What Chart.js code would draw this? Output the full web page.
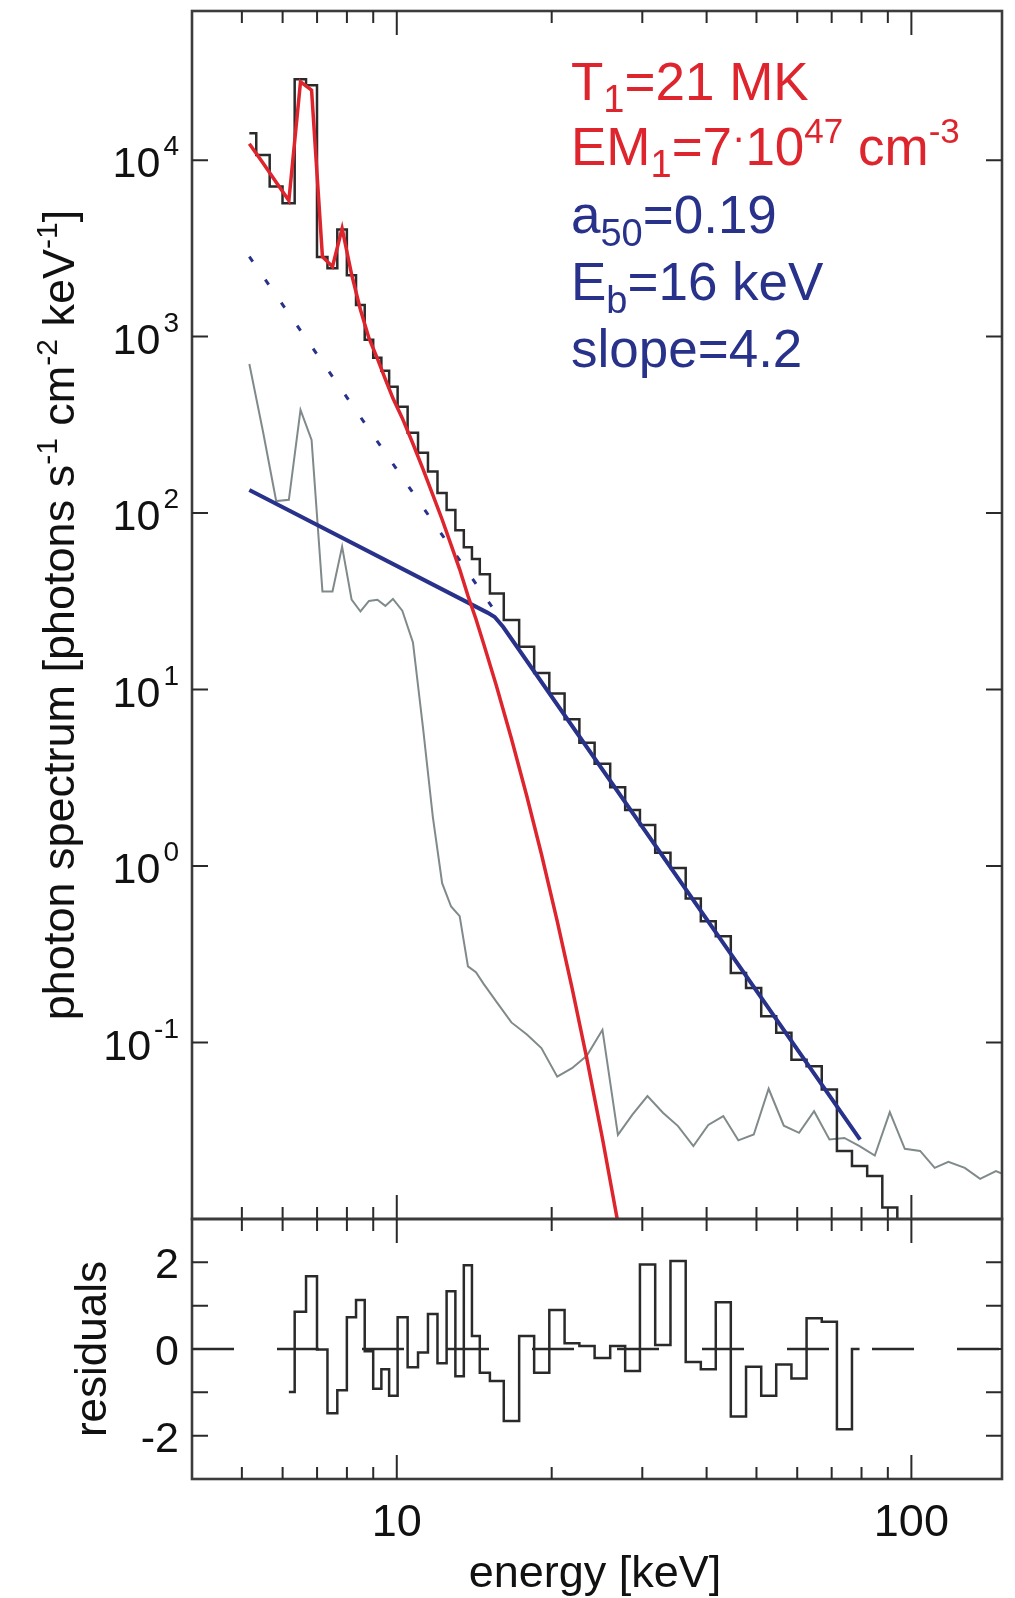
<!DOCTYPE html>
<html>
<head>
<meta charset="utf-8">
<script src="https://cdn.jsdelivr.net/npm/chart.js@4.4.1/dist/chart.umd.min.js"></script>
<style>
  html, body { margin: 0; padding: 0; background: #fff; }
  #wrap { position: relative; width: 1015px; height: 1598px; }
  canvas { position: absolute; left: 0; }
  #main { top: 0; }
  #resid { top: 1190px; }
</style>
</head>
<body>
<div id="wrap">
  <canvas id="main" width="1015" height="1230"></canvas>
  <canvas id="resid" width="1015" height="408"></canvas>
</div>
<script>
// ---- data ----

// energy bin centres (keV) of the measured spectrum
const binEnergy = [5.17, 5.5, 5.83, 6.17, 6.5, 6.83, 7.17, 7.5, 7.83, 8.17, 8.5, 8.83,
  9.17, 9.5, 9.83, 10.25, 10.75, 11.25, 11.75, 12.25, 12.75, 13.25, 13.75, 14.25, 14.75,
  15.6, 16.7, 17.9, 19.1, 20.5, 21.9, 23.4, 25.1, 26.9, 28.7, 30.7, 32.9, 35.2, 37.7, 40.3,
  43.1, 46.1, 49.4, 52.8, 56.5, 60.5, 64.7, 69.3, 74.1, 79.3, 84.9, 90.8, 97.1];

// measured photon spectrum (black histogram)
const photonFlux = [14200, 10700, 7100, 5700, 28700, 26600, 2830, 2440, 4050, 2230, 1510, 960,
  760, 640, 520, 400, 285, 220, 172, 130, 104, 80, 64, 55, 45,
  35, 24.8, 17.5, 12.4, 9.5, 6.8, 5.0, 3.8, 2.8, 2.08, 1.71, 1.19, 0.975, 0.654, 0.486,
  0.400, 0.248, 0.204, 0.141, 0.1135, 0.080, 0.0734, 0.0542, 0.0243, 0.0200, 0.0175, 0.0116, 0.005];

// background (grey)
const bgEnergy = [5.17, 5.5, 5.83, 6.17, 6.5, 6.83, 7.17, 7.5, 7.83, 8.17, 8.5, 8.83,
  9.17, 9.5, 9.83, 10.25, 10.75, 11.25, 11.75, 12.25, 12.75, 13.25, 13.75, 14.25, 14.75,
  15.6, 16.7, 17.9, 19.1, 20.5, 21.9, 23.4, 25.1, 26.9, 28.7, 30.7, 32.9, 35.2, 37.7, 40.3,
  43.1, 46.1, 49.4, 52.8, 56.5, 60.5, 64.7, 69.3, 74.1, 79.3, 84.9, 90.8, 97.1,
  104, 111, 118, 127, 136, 146, 156];
const bgFlux = [700, 286, 117, 119, 384, 260, 36, 36, 64.6, 32.3, 27.7, 31.8,
  32.3, 29.8, 32.6, 28, 18.5, 6, 1.9, 0.8, 0.59, 0.52, 0.27, 0.25, 0.215,
  0.171, 0.13, 0.111, 0.093, 0.064, 0.0715, 0.084, 0.118, 0.030, 0.039, 0.0497, 0.040, 0.0336, 0.0259, 0.0341,
  0.0383, 0.0279, 0.0301, 0.0547, 0.0338, 0.0308, 0.0408, 0.0282, 0.0288, 0.0259, 0.0229, 0.0403, 0.025,
  0.0243, 0.0195, 0.0211, 0.0195, 0.0169, 0.0187, 0.0172];

// thermal model (red)
const thermEnergy = [5.17, 5.5, 5.83, 6.17, 6.5, 6.83, 7.17, 7.5, 7.83, 8.17, 8.5, 8.83,
  9.17, 9.5, 9.83, 10.25, 10.75, 11.25, 11.75, 12.25, 12.75, 13.25, 13.75, 14.25, 14.75,
  15.6, 16.7, 17.9, 19.1, 20.5, 21.9, 23.4, 25.1, 26.9, 28.7];
const thermFlux = [12400, 9600, 7500, 5900, 27800, 24900, 2840, 2490, 4100, 2250, 1420, 980,
  750, 575, 447, 345, 247, 177, 127, 92, 66, 48, 34, 25.1, 18.2,
  10.6, 5.28, 2.48, 1.17, 0.488, 0.205, 0.0813, 0.0286, 0.0095, 0.0032];

// non-thermal broken power law (blue) and its extension below the break (dotted)
const nonthEnergy = [5.17, 15.0, 15.5, 16.1, 79.5];
const nonthFlux = [135, 27.3, 25.8, 22.6, 0.0282];
const extEnergy = [5.17, 15.3];
const extFlux = [2840, 29.5];

// residuals
const resEnergy = [6.17, 6.5, 6.83, 7.17, 7.5, 7.83, 8.17, 8.5, 8.83,
  9.17, 9.5, 9.83, 10.25, 10.75, 11.25, 11.75, 12.25, 12.75, 13.25, 13.75, 14.25, 14.75,
  15.6, 16.7, 17.9, 19.1, 20.5, 21.9, 23.4, 25.1, 26.9, 28.7, 30.7, 32.9, 35.2, 37.7, 40.3,
  43.1, 46.1, 49.4, 52.8, 56.5, 60.5, 64.7, 69.3, 74.1, 79.3];
const resValue = [-0.99, 0.86, 1.68, -0.01, -1.48, -0.95, 0.73, 1.13, -0.05,
  -0.92, -0.47, -1.08, 0.73, -0.42, -0.08, 0.81, -0.33, 1.33, -0.63, 1.93, 0.30, -0.55,
  -0.74, -1.66, 0.30, -0.55, 0.90, 0.13, 0.07, -0.21, 0.07, -0.51, 1.95, 0.09, 2.03, -0.30, -0.47,
  1.08, -1.56, -0.41, -1.08, -0.36, -0.68, 0.71, 0.63, -1.85, 0.0];

// axis ticks
const xMinorTicks = [5, 6, 7, 8, 9, 20, 30, 40, 50, 60, 70, 80, 90];
const xMajorTicks = [10, 100];
const xTickLabels = ['10', '100'];
const yExponents = [-1, 0, 1, 2, 3, 4];
const resTicks = [-2, -1, 0, 1, 2];
const resTickLabels = [-2, 0, 2];

// ---- drawing helpers ----
const FONT = '"Liberation Sans", Arial, Helvetica, sans-serif';
const RED = 'rgb(222,36,44)';
const BLUE = 'rgb(40,50,138)';
const GREY = 'rgb(128,138,138)';
const INK = '#2a2a2a';
const RES_TOP = 1190;

function xy(xs, ys) {
  return xs.map((x, i) => ({ x: x, y: ys[i] }));
}

// draw a run of text pieces (for sub/superscripts)
function drawRich(ctx, parts, x, y, align) {
  let w = 0;
  parts.forEach(p => {
    ctx.font = p.size + 'px ' + FONT;
    p.w = ctx.measureText(p.t).width;
    w += p.w + (p.gap || 0);
  });
  let cx = x;
  if (align === 'right') cx = x - w;
  if (align === 'center') cx = x - w / 2;
  parts.forEach(p => {
    ctx.font = p.size + 'px ' + FONT;
    ctx.fillText(p.t, cx, y + (p.dy || 0));
    cx += p.w + (p.gap || 0);
  });
}

function xTicks(ctx, xs, yEdge, dir) {
  xMinorTicks.forEach(v => {
    const px = xs.getPixelForValue(v);
    ctx.moveTo(px, yEdge);
    ctx.lineTo(px, yEdge + dir * 12);
  });
  xMajorTicks.forEach(v => {
    const px = xs.getPixelForValue(v);
    ctx.moveTo(px, yEdge);
    ctx.lineTo(px, yEdge + dir * 24);
  });
}

function yTicks(ctx, a, py) {
  ctx.moveTo(a.left, py);
  ctx.lineTo(a.left + 16, py);
  ctx.moveTo(a.right, py);
  ctx.lineTo(a.right - 16, py);
}

// frame, ticks and text of the spectrum panel
const mainAxes = {
  id: 'mainAxes',
  afterDatasetsDraw(chart) {
    const ctx = chart.ctx, a = chart.chartArea;
    const xs = chart.scales.x, ys = chart.scales.y;
    ctx.save();
    ctx.strokeStyle = '#3c3c3c';
    ctx.lineWidth = 2.6;
    ctx.strokeRect(a.left, a.top, a.right - a.left, a.bottom - a.top);

    ctx.strokeStyle = INK;
    ctx.lineWidth = 2;
    ctx.beginPath();
    xTicks(ctx, xs, a.top, 1);
    xTicks(ctx, xs, a.bottom, -1);
    yExponents.forEach(e => yTicks(ctx, a, ys.getPixelForValue(Math.pow(10, e))));
    ctx.stroke();

    ctx.fillStyle = '#111';
    ctx.textAlign = 'left';
    ctx.textBaseline = 'alphabetic';
    yExponents.forEach(e => {
      const py = ys.getPixelForValue(Math.pow(10, e));
      drawRich(ctx, [
        { t: '10', size: 43, gap: 3 },
        { t: String(e), size: 28, dy: -22 }
      ], 179, py + 17, 'right');
    });

    // y axis title
    ctx.save();
    ctx.translate(74, (a.top + a.bottom) / 2);
    ctx.rotate(-Math.PI / 2);
    drawRich(ctx, [
      { t: 'photon spectrum [photons s', size: 45 },
      { t: '-1', size: 30, dy: -17 },
      { t: ' cm', size: 45 },
      { t: '-2', size: 30, dy: -17 },
      { t: ' keV', size: 45 },
      { t: '-1', size: 30, dy: -17 },
      { t: ']', size: 45 }
    ], 0, 0, 'center');
    ctx.restore();

    // fit parameters
    const x0 = 571;
    ctx.fillStyle = RED;
    drawRich(ctx, [
      { t: 'T', size: 53 }, { t: '1', size: 38, dy: 12 }, { t: '=21 MK', size: 53 }
    ], x0, 100, 'left');
    drawRich(ctx, [
      { t: 'EM', size: 53 }, { t: '1', size: 38, dy: 12 }, { t: '=7', size: 53 },
      { t: '\u00b7', size: 40, dy: -14 }, { t: '10', size: 53 },
      { t: '47', size: 35, dy: -22 }, { t: ' cm', size: 53 }, { t: '-3', size: 35, dy: -22 }
    ], x0, 165, 'left');
    ctx.fillStyle = BLUE;
    drawRich(ctx, [
      { t: 'a', size: 53 }, { t: '50', size: 38, dy: 13 }, { t: '=0.19', size: 53 }
    ], x0, 233, 'left');
    drawRich(ctx, [
      { t: 'E', size: 53 }, { t: 'b', size: 38, dy: 13 }, { t: '=16 keV', size: 53 }
    ], x0, 300, 'left');
    drawRich(ctx, [{ t: 'slope=4.2', size: 53 }], x0, 367, 'left');
    ctx.restore();
  }
};

// frame, ticks and text of the residual panel
const resAxes = {
  id: 'resAxes',
  afterDatasetsDraw(chart) {
    const ctx = chart.ctx, a = chart.chartArea;
    const xs = chart.scales.x, ys = chart.scales.y;
    ctx.save();
    ctx.strokeStyle = '#3c3c3c';
    ctx.lineWidth = 2.6;
    ctx.strokeRect(a.left, a.top, a.right - a.left, a.bottom - a.top);

    ctx.strokeStyle = INK;
    ctx.lineWidth = 2;
    ctx.beginPath();
    xTicks(ctx, xs, a.top, 1);
    xTicks(ctx, xs, a.bottom, -1);
    resTicks.forEach(v => yTicks(ctx, a, ys.getPixelForValue(v)));
    ctx.stroke();

    ctx.fillStyle = '#111';
    ctx.textAlign = 'left';
    ctx.textBaseline = 'alphabetic';
    resTickLabels.forEach(v => {
      drawRich(ctx, [{ t: String(v), size: 43 }], 179, ys.getPixelForValue(v) + 16, 'right');
    });
    xMajorTicks.forEach((v, i) => {
      drawRich(ctx, [{ t: xTickLabels[i], size: 45 }], xs.getPixelForValue(v), 1536 - RES_TOP, 'center');
    });
    drawRich(ctx, [{ t: 'energy [keV]', size: 45 }], 595, 1587 - RES_TOP, 'center');

    ctx.save();
    ctx.translate(106, (a.top + a.bottom) / 2);
    ctx.rotate(-Math.PI / 2);
    drawRich(ctx, [{ t: 'residuals', size: 44 }], 0, 0, 'center');
    ctx.restore();
    ctx.restore();
  }
};

const common = {
  responsive: false,
  animation: false,
  devicePixelRatio: 1,
  plugins: { legend: { display: false }, tooltip: { enabled: false } },
  elements: { point: { radius: 0 }, line: { tension: 0 } }
};

new Chart(document.getElementById('main'), {
  type: 'line',
  data: {
    datasets: [
      { data: xy(thermEnergy, thermFlux), borderColor: RED, borderWidth: 3.5 },
      { data: xy(nonthEnergy, nonthFlux), borderColor: BLUE, borderWidth: 4 },
      { data: xy(extEnergy, extFlux), borderColor: BLUE, borderWidth: 3, borderDash: [6, 22] },
      { data: xy(binEnergy, photonFlux), borderColor: INK, borderWidth: 2.5, stepped: 'middle' },
      { data: xy(bgEnergy, bgFlux), borderColor: GREY, borderWidth: 2 }
    ]
  },
  options: Object.assign({}, common, {
    layout: { padding: { left: 192, top: 11, right: 13, bottom: 11 } },
    scales: {
      x: { type: 'logarithmic', min: 4, max: 150, display: false },
      y: { type: 'logarithmic', min: 0.01, max: 70000, display: false }
    }
  }),
  plugins: [mainAxes]
});

new Chart(document.getElementById('resid'), {
  type: 'line',
  data: {
    datasets: [
      { data: xy(resEnergy, resValue), borderColor: INK, borderWidth: 2.5, stepped: 'middle' },
      { data: xy([4, 150], [0, 0]), borderColor: INK, borderWidth: 2.5, borderDash: [42, 43] }
    ]
  },
  options: Object.assign({}, common, {
    layout: { padding: { left: 192, top: 1219 - RES_TOP, right: 13, bottom: 408 - (1479 - RES_TOP) } },
    scales: {
      x: { type: 'logarithmic', min: 4, max: 150, display: false },
      y: { type: 'linear', min: -3, max: 3, display: false }
    }
  }),
  plugins: [resAxes]
});
</script>
</body>
</html>
